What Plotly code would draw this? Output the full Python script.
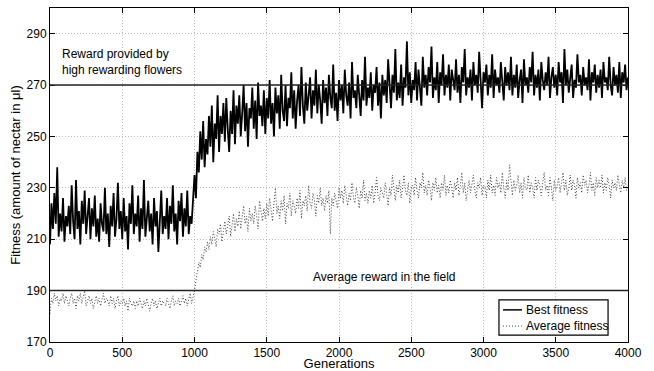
import plotly.graph_objects as go

generations = list(range(0, 4001, 10))

best_fitness = [
    208, 224, 214, 228, 216, 238, 211, 220, 213, 226,
    209, 219, 215, 223, 212, 231, 217, 210, 233, 214,
    221, 208, 225, 216, 229, 212, 219, 226, 210, 222,
    215, 227, 211, 218, 209, 224, 216, 213, 230, 212,
    220, 207, 223, 215, 228, 211, 218, 232, 214, 221,
    210, 226, 213, 219, 206, 224, 216, 231, 212, 220,
    215, 227, 209, 222, 214, 233, 211, 218, 225, 213,
    220, 208, 226, 215, 221, 205, 217, 229, 212, 219,
    214, 226, 210, 223, 216, 231, 213, 220, 208, 225,
    217, 228, 211, 222, 215, 229, 212, 219, 216, 224,
    235,
    226, 244, 236, 252, 241, 256, 238, 249, 243, 258,
    246, 262, 240, 255, 249, 266, 244, 258, 251, 263,
    248, 265, 253, 244, 260, 251, 268, 247, 262, 255,
    266, 250, 259, 270, 252, 263, 246, 261, 257, 269,
    253, 264, 249, 271, 258, 262, 254, 268, 251, 265,
    257, 272, 255, 263, 250, 269, 259, 266, 253, 274,
    260, 256, 270, 254, 265, 261, 275, 257, 268, 253,
    264, 270, 258, 277, 262, 255, 271, 260, 266, 273,
    257, 268, 262, 276, 259, 270, 264, 255, 272, 263,
    269, 258, 274, 265, 261, 278, 260, 267, 256, 272,
    264, 270, 259, 276, 266, 262, 271, 257, 279, 265,
    268, 261, 274, 266, 258, 272, 264, 281, 262, 269,
    265, 275, 260, 270, 267, 277, 262, 271, 257, 274,
    266, 272, 263, 280, 268, 261, 274, 267, 284, 264,
    271, 265, 278, 262, 273, 269, 287, 266, 275, 263,
    272, 268, 279, 264, 276, 270, 262, 281, 269, 274,
    266, 277, 271, 285, 265, 273, 268, 279, 263, 275,
    270, 282, 266, 274, 269, 278, 264, 276, 272, 268,
    280, 267, 274, 263, 277, 271, 284, 266, 273, 269,
    276, 264, 279, 270, 274, 267, 283, 269, 261, 275,
    271, 278, 266, 274, 269, 282, 265, 276, 270, 273,
    267, 279, 272, 264, 277, 270, 275, 268, 281, 266,
    274, 269, 278, 265, 272, 276, 263, 280, 270, 273,
    267, 277, 271, 283, 266, 274, 269, 276, 264, 279,
    272, 268, 275, 270, 281, 265, 273, 277, 269, 274,
    266, 279, 271, 275, 263, 284, 270, 276, 267, 273,
    278, 265, 272, 269, 282, 271, 274, 266, 277, 270,
    273, 268, 280, 264, 275, 271, 278, 267, 274, 269,
    276, 265, 279, 271, 273, 268, 281, 270, 266, 277,
    270, 274, 267, 279, 265, 275, 271, 278, 268, 273,
]

average_fitness = [
    181, 187, 185, 189, 186, 188, 184, 187, 186, 189,
    185, 188, 186, 184, 187, 189, 185, 187, 183, 188,
    186, 189, 185, 187, 190, 184, 186, 188, 185, 187,
    183, 186, 188, 185, 187, 184, 186, 189, 185, 187,
    186, 184, 188, 185, 187, 183, 186, 188, 184, 186,
    185, 187, 184, 186, 182, 187, 185, 184, 186, 183,
    186, 184, 187, 185, 183, 186, 184, 187, 185, 182,
    185, 187, 184, 186, 183, 185, 187, 184, 186, 185,
    184, 187, 185, 183, 186, 188, 184, 186, 185, 187,
    184, 186, 188, 185, 187, 184, 186, 189, 185, 187,
    190,
    194, 197, 201, 199, 204, 202, 207, 205, 209, 206,
    211, 208, 213, 210, 207, 214, 212, 216, 209, 213,
    217, 212, 215, 219, 211, 216, 220, 213, 218, 215,
    221, 214, 218, 223, 216, 219, 213, 222, 217, 220,
    216, 223, 219, 214, 225, 220, 217, 222, 218, 224,
    219, 226, 221, 217, 224, 230, 220, 223, 218, 225,
    221, 227, 216, 224, 222, 228, 219, 225, 223, 220,
    226, 222, 229, 218, 225, 223, 227, 221, 231, 224,
    222, 228, 225, 219, 227, 224, 230, 223, 226, 221,
    227, 224, 229, 212, 226, 223, 228, 225, 222, 230,
    226, 229, 224, 231, 227, 223, 228, 225, 232, 226,
    224, 230, 227, 222, 229, 226, 233, 225, 228, 224,
    229, 226, 231, 224, 228, 234, 227, 225, 230, 228,
    226, 232, 228, 223, 230, 227, 235, 229, 225, 231,
    228, 233, 226, 230, 235, 229, 227, 232, 224, 230,
    231, 227, 234, 229, 226, 232, 230, 236, 228, 231,
    227, 233, 230, 225, 232, 229, 234, 228, 231, 226,
    232, 229, 235, 227, 231, 228, 233, 230, 226, 232,
    229, 234, 227, 231, 236, 228, 232, 225, 230, 233,
    228, 231, 235, 229, 226, 232, 230, 234, 227, 231,
    230, 226, 233, 229, 235, 228, 231, 227, 234, 230,
    232, 228, 236, 230, 226, 233, 229, 239, 231, 227,
    233, 229, 231, 235, 228, 232, 226, 234, 230, 229,
    235, 228, 232, 230, 226, 234, 229, 233, 231, 227,
    232, 236, 229, 231, 227, 234, 230, 225, 233, 229,
    231, 234, 228, 232, 236, 229, 233, 227, 230, 235,
    229, 233, 231, 226, 234, 230, 232, 228, 235, 231,
    233, 228, 231, 236, 229, 232, 227, 234, 230, 233,
    230, 235, 228, 232, 229, 234, 231, 226, 233, 230,
    232, 229, 235, 231, 228, 233, 230, 234, 229, 231,
]

series_names = ["Best fitness", "Average fitness"]
high_reward_level = 270
field_reward_level = 190
x_ticks = [0, 500, 1000, 1500, 2000, 2500, 3000, 3500, 4000]
y_ticks = [170, 190, 210, 230, 250, 270, 290]

FONT = "Liberation Sans, Arial, Helvetica, sans-serif"
BEST_STYLE = dict(color="black", width=1.8)
AVG_STYLE = dict(color="#444444", width=1, dash="1px,2px")

fig = go.Figure()
fig.add_trace(go.Scatter(
    x=generations, y=average_fitness, mode="lines", name=series_names[1],
    line=AVG_STYLE, showlegend=False,
))
fig.add_trace(go.Scatter(
    x=generations, y=best_fitness, mode="lines", name=series_names[0],
    line=BEST_STYLE, showlegend=False,
))

for lvl in (high_reward_level, field_reward_level):
    fig.add_shape(type="line", xref="paper", x0=0, x1=1, yref="y", y0=lvl, y1=lvl,
                  line=dict(color="#222222", width=1.5), layer="above")

fig.add_annotation(x=70, y=279, xref="x", yref="y", text="Reward provided by<br>high rewarding flowers",
                   showarrow=False, xanchor="left", yanchor="middle", align="left",
                   font=dict(family=FONT, size=12, color="black"))
fig.add_annotation(x=2318, y=195.4, xref="x", yref="y", text="Average reward in the field",
                   showarrow=False, xanchor="center", yanchor="middle",
                   font=dict(family=FONT, size=12, color="black"))

# Legend box (drawn manually to match the compact MATLAB-style legend)
fig.add_shape(type="rect", xref="x", yref="y", x0=3107, x1=3862, y0=172.7, y1=186.4,
              line=dict(color="black", width=1.2), fillcolor="white", layer="above")
legend_rows = [(182.5, BEST_STYLE), (176.2, AVG_STYLE)]
for name, (ly, style) in zip(series_names, legend_rows):
    fig.add_shape(type="line", xref="x", yref="y", x0=3135, x1=3266, y0=ly, y1=ly,
                  line=dict(color=style["color"], width=min(style["width"], 1.5),
                            dash=style.get("dash", "solid")), layer="above")
    fig.add_annotation(x=3280, y=ly, xref="x", yref="y", text=name, showarrow=False,
                       xanchor="left", yanchor="middle",
                       font=dict(family=FONT, size=12, color="black"))

fig.update_layout(
    width=654, height=371,
    margin=dict(l=50, r=26, t=8, b=29, autoexpand=False),
    paper_bgcolor="white", plot_bgcolor="white",
    font=dict(family=FONT, size=12, color="black"),
    showlegend=False,
)
fig.update_xaxes(
    range=[0, 4000], tickvals=x_ticks, ticks="inside", ticklen=5, tickcolor="black",
    showline=True, linecolor="black", linewidth=1, mirror="ticks",
    showgrid=True, gridcolor="#bbbbbb", griddash="1px,2px", gridwidth=1,
    zeroline=False, automargin=False,
    title=dict(text="Generations", standoff=3, font=dict(size=13)),
    tickfont=dict(size=12),
)
fig.update_yaxes(
    range=[170, 300], tickvals=y_ticks, ticks="inside", ticklen=5, tickcolor="black",
    showline=True, linecolor="black", linewidth=1, mirror="ticks",
    showgrid=True, gridcolor="#bbbbbb", griddash="1px,2px", gridwidth=1,
    zeroline=False, automargin=False,
    title=dict(text="Fitness (amount of nectar in μl)", standoff=3, font=dict(size=13)),
    tickfont=dict(size=12),
)

fig.write_html("out.html", config={"displayModeBar": False},
               post_script="document.body.style.margin='0';document.body.style.overflow='hidden';")
